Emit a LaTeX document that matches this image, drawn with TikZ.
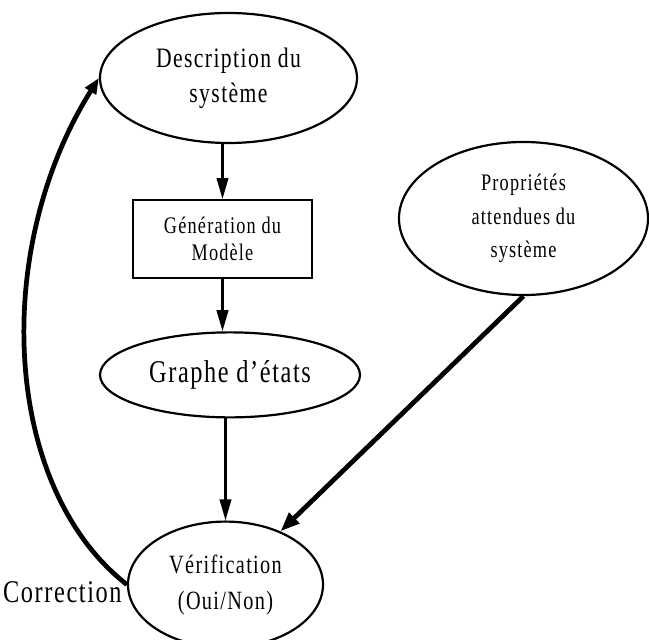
\documentclass[tikz,border=0pt]{standalone}
\usepackage{fontspec}
\setmainfont[FakeStretch=0.77, LetterSpace=5]{Liberation Serif}
\usepackage{tikz}
\usetikzlibrary{shapes.geometric, arrows.meta, positioning}
\definecolor{ink}{RGB}{0, 0, 0}
\tikzset{
    oval/.style={ellipse, draw=ink, line width=1.25pt, inner sep=1pt, align=center},
    box/.style={rectangle, draw=ink, line width=1.25pt, inner sep=1pt, align=center, minimum width=3.58cm, minimum height=1.56cm, font=\fontsize{13.5}{15.5}\selectfont},
    arr/.style={-{Triangle[length=12pt, width=6.5pt]}, line width=1.5pt, draw=ink},
    heavyarr/.style={-{Triangle[length=11pt, width=8pt]}, line width=2.7pt, draw=ink},
    lbl/.style={font=\fontsize{18}{21}\selectfont, inner sep=0pt}
}

\begin{document}
\begin{tikzpicture}[node distance=1.1cm]
    \useasboundingbox (0,0) rectangle (12.98,-12.8);

    \node[oval, minimum width=5.14cm, minimum height=2.6cm, font=\fontsize{16}{20}\selectfont] (desc) at (4.57,-1.56) {Description du\\système};
    \node[box, below=1.1cm of desc, xshift=-0.12cm] (gen) {Génération du\\Modèle};
    \node[oval, minimum width=5.2cm, minimum height=1.7cm, font=\fontsize{18}{21}\selectfont, below=1.04cm of gen, xshift=0.15cm] (graphe) {Graphe d’états};
    \node[oval, minimum width=3.9cm, minimum height=2.52cm, font=\fontsize{15}{20.5}\selectfont, below=2.04cm of graphe, xshift=-0.09cm] (verif) {Vérification\\(Oui/Non)};
    \node[oval, minimum width=4.98cm, minimum height=3.06cm, font=\fontsize{13.5}{19}\selectfont] (prop) at (10.47,-4.37) {Propriétés\\attendues du\\système};
    \node[lbl, left=0.1cm of verif.west, yshift=-0.16cm] (corr) {Correction};

    \draw[arr] (desc.south -| gen) -- (gen);
    \draw[arr] (gen) -- (gen |- graphe.north);
    \draw[arr] (graphe.south -| verif) -- (verif);
    \draw[heavyarr] (prop.south) -- (verif);
    % retour de la verification vers la description
    \draw[heavyarr, -{Triangle[length=9pt, width=7pt]}] (verif.west) .. controls (0.05,-9.75) and (-0.18,-5) .. (desc.west);
\end{tikzpicture}
\end{document}
